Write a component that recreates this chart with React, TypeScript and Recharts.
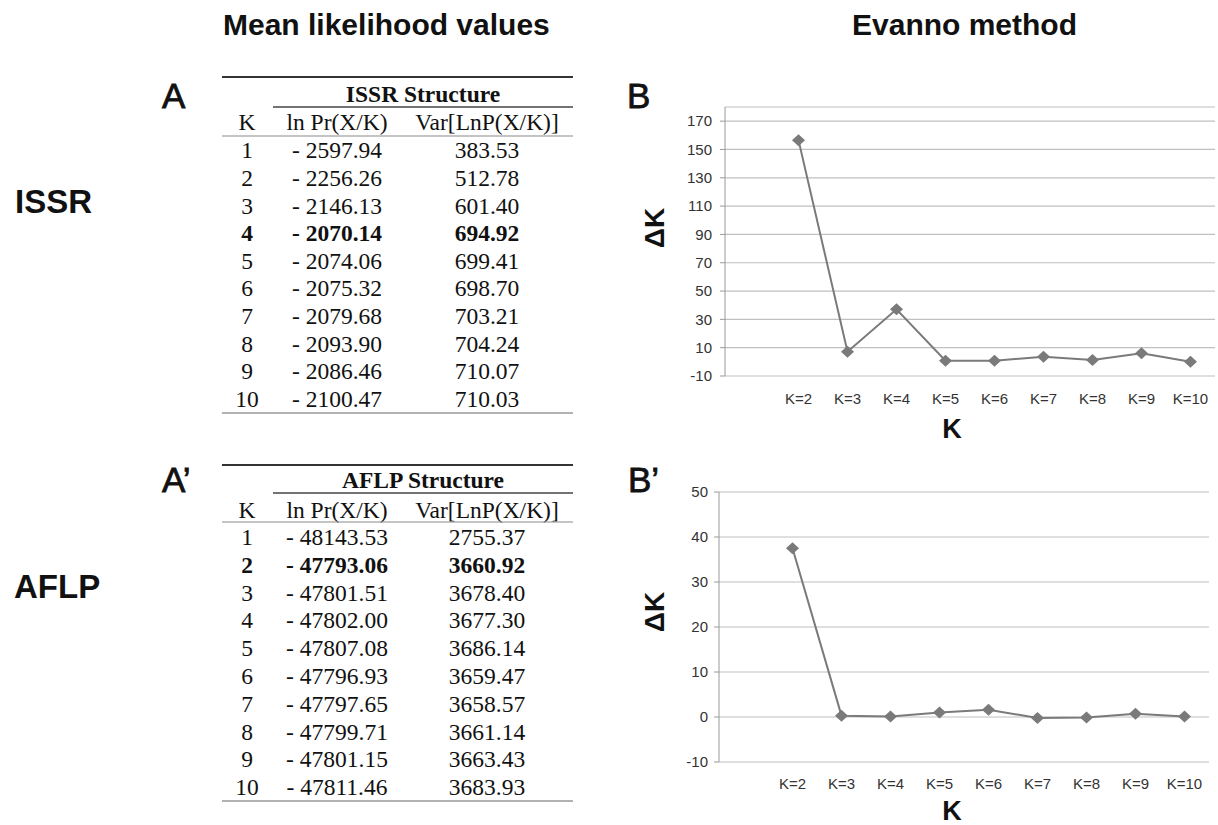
import React from 'react';
import { LineChart, Line, XAxis, YAxis, CartesianGrid } from 'recharts';

const SANS = 'Arial, "Liberation Sans", Helvetica, sans-serif';
const SERIF = '"Times New Roman", "Liberation Serif", serif';

// x slots of the Evanno plots (first slot is left empty, there is no ΔK for K=1)
const kSlots = ['', 'K=2', 'K=3', 'K=4', 'K=5', 'K=6', 'K=7', 'K=8', 'K=9', 'K=10'];
const issrDeltaK = [null, 156.6, 7.2, 37.1, 0.8, 0.8, 3.6, 1.3, 6.0, 0.1];
const aflpDeltaK = [null, 37.5, 0.3, 0.1, 1.0, 1.6, -0.2, -0.1, 0.7, 0.1];
const issrTicks = [-10, 10, 30, 50, 70, 90, 110, 130, 150, 170];
const aflpTicks = [-10, 0, 10, 20, 30, 40, 50];

// mean likelihood tables
const tableK = [1, 2, 3, 4, 5, 6, 7, 8, 9, 10];
const issrLnPr = [-2597.94, -2256.26, -2146.13, -2070.14, -2074.06, -2075.32, -2079.68, -2093.9, -2086.46, -2100.47];
const issrVar = [383.53, 512.78, 601.4, 694.92, 699.41, 698.7, 703.21, 704.24, 710.07, 710.03];
const aflpLnPr = [-48143.53, -47793.06, -47801.51, -47802.0, -47807.08, -47796.93, -47797.65, -47799.71, -47801.15, -47811.46];
const aflpVar = [2755.37, 3660.92, 3678.4, 3677.3, 3686.14, 3659.47, 3658.57, 3661.14, 3663.43, 3683.93];

const AXIS = '#9a9a9a';
const GRID = '#c0c0c0';
const SERIES = '#7a7a7a';

const fmtLn = (v: number) => `- ${Math.abs(v).toFixed(2)}`;
const fmtVar = (v: number) => v.toFixed(2);

const Diamond = (props: any) => {
  const { cx, cy, index, value } = props;
  if (cx == null || cy == null || value == null) return <g key={`d-${index}`} />;
  return (
    <path
      key={`d-${index}`}
      d={`M${cx},${cy - 6} L${cx + 6.5},${cy} L${cx},${cy + 6} L${cx - 6.5},${cy} Z`}
      fill={SERIES}
    />
  );
};

interface ChartProps {
  values: (number | null)[];
  ticks: number[];
  domain: [number, number];
  left: number;
  top: number;
  height: number;
  margin: { top: number; right: number; left: number; bottom: number };
  yWidth: number;
  yTickMargin: number;
  xLabelHeight: number;
  xTickMargin: number;
}

function DeltaKChart({ values, ticks, domain, left, top, height, margin, yWidth, yTickMargin, xLabelHeight, xTickMargin }: ChartProps) {
  const data = kSlots.map((label, i) => ({ pos: i + 1, label, dk: values[i] }));
  const bounds = [...kSlots.map((_, i) => i + 0.5), kSlots.length + 0.5];
  const labelTicks = data.filter((d) => d.label).map((d) => d.pos);
  const xDomain: [number, number] = [0.5, kSlots.length + 0.5];

  return (
    <div style={{ position: 'absolute', left, top }}>
      <LineChart width={618} height={height} data={data} margin={margin}>
        <CartesianGrid vertical={false} stroke={GRID} strokeWidth={1.2} />
        <XAxis
          xAxisId="bounds"
          dataKey="pos"
          type="number"
          domain={xDomain}
          ticks={bounds}
          interval={0}
          height={0}
          tickSize={5}
          tickFormatter={() => ''}
          axisLine={{ stroke: AXIS }}
          tickLine={{ stroke: AXIS }}
        />
        <XAxis
          dataKey="pos"
          type="number"
          domain={xDomain}
          ticks={labelTicks}
          interval={0}
          height={xLabelHeight}
          tickSize={0}
          tickMargin={xTickMargin}
          axisLine={false}
          tickLine={false}
          tickFormatter={(v: number) => kSlots[v - 1]}
          tick={{ fontSize: 15, fill: '#333' }}
        />
        <YAxis
          type="number"
          domain={domain}
          ticks={ticks}
          interval={0}
          width={yWidth}
          tickSize={5}
          tickMargin={yTickMargin}
          axisLine={{ stroke: AXIS }}
          tickLine={{ stroke: AXIS }}
          tick={{ fontSize: 15, fill: '#333' }}
        />
        <Line
          dataKey="dk"
          stroke={SERIES}
          strokeWidth={2}
          dot={Diamond}
          activeDot={false}
          isAnimationActive={false}
        />
      </LineChart>
    </div>
  );
}

interface TableLayout {
  top: number;
  title: number;
  sub: number;
  head: number;
  headRule: number;
  row0: number;
  pitch: number;
  bottom: number;
}

const T_LEFT = 222;
const T_RIGHT = 573;
const T_SUB = 273;
const COL_K = 247;
const COL_LN = 337;
const COL_VAR = 487;

function StructureTable({ title, lnPr, variance, boldRow, y }: { title: string; lnPr: number[]; variance: number[]; boldRow: number; y: TableLayout }) {
  return (
    <g fontFamily={SERIF} fontSize={23.5} fill="#111" textAnchor="middle">
      <line x1={T_LEFT} x2={T_RIGHT} y1={y.top} y2={y.top} stroke="#333" strokeWidth={2} />
      <text x={(T_SUB + T_RIGHT) / 2} y={y.title} fontWeight="bold">{title}</text>
      <line x1={T_SUB} x2={T_RIGHT} y1={y.sub} y2={y.sub} stroke="#444" strokeWidth={1.5} />
      <text x={COL_K} y={y.head}>K</text>
      <text x={COL_LN} y={y.head}>ln Pr(X/K)</text>
      <text x={COL_VAR} y={y.head}>Var[LnP(X/K)]</text>
      <line x1={T_LEFT} x2={T_RIGHT} y1={y.headRule} y2={y.headRule} stroke="#8a8a8a" strokeWidth={1.2} />
      {tableK.map((k, i) => (
        <g key={k} fontWeight={i === boldRow ? 'bold' : 'normal'}>
          <text x={COL_K} y={y.row0 + i * y.pitch}>{k}</text>
          <text x={COL_LN} y={y.row0 + i * y.pitch}>{fmtLn(lnPr[i])}</text>
          <text x={COL_VAR} y={y.row0 + i * y.pitch}>{fmtVar(variance[i])}</text>
        </g>
      ))}
      <line x1={T_LEFT} x2={T_RIGHT} y1={y.bottom} y2={y.bottom} stroke="#999" strokeWidth={1.5} />
    </g>
  );
}

export default function App() {
  return (
    <div style={{ position: 'absolute', left: 0, top: 0, width: 1218, height: 825, background: '#fff', fontFamily: SANS }}>
      <svg width={1218} height={825} style={{ position: 'absolute', left: 0, top: 0 }}>
        <g fontFamily={SANS} fill="#111">
          <text x={223} y={35} fontSize={30} fontWeight="bold">Mean likelihood values</text>
          <text x={852} y={35} fontSize={30} fontWeight="bold">Evanno method</text>
          <text x={15} y={213} fontSize={33} fontWeight="bold">ISSR</text>
          <text x={14} y={598} fontSize={33} fontWeight="bold">AFLP</text>
          <g stroke="#111" strokeWidth={0.8}>
            <text x={162} y={108} fontSize={35}>A</text>
            <text x={162} y={492} fontSize={35}>A’</text>
            <text x={627} y={108} fontSize={35}>B</text>
            <text x={628} y={492} fontSize={35}>B’</text>
          </g>
          <text x={654} y={228} fontSize={28} fontWeight="bold" textAnchor="middle" dominantBaseline="central" transform="rotate(-90 654 228)">ΔK</text>
          <text x={654} y={612} fontSize={28} fontWeight="bold" textAnchor="middle" dominantBaseline="central" transform="rotate(-90 654 612)">ΔK</text>
          <text x={952} y={438} fontSize={27} fontWeight="bold" textAnchor="middle">K</text>
          <text x={952} y={820} fontSize={27} fontWeight="bold" textAnchor="middle">K</text>
        </g>
        <StructureTable
          title="ISSR Structure"
          lnPr={issrLnPr}
          variance={issrVar}
          boldRow={3}
          y={{ top: 77, title: 101.7, sub: 107, head: 130, headRule: 136, row0: 158.3, pitch: 27.6, bottom: 413 }}
        />
        <StructureTable
          title="AFLP Structure"
          lnPr={aflpLnPr}
          variance={aflpVar}
          boldRow={1}
          y={{ top: 465, title: 488.3, sub: 493, head: 517.7, headRule: 522, row0: 545, pitch: 27.8, bottom: 801 }}
        />
      </svg>

      <DeltaKChart
        values={issrDeltaK}
        ticks={issrTicks}
        domain={[-10, 180]}
        left={600}
        top={70}
        height={380}
        margin={{ top: 37, right: 3, left: 0, bottom: 0 }}
        yWidth={125}
        yTickMargin={8}
        xLabelHeight={74}
        xTickMargin={17}
      />
      <DeltaKChart
        values={aflpDeltaK}
        ticks={aflpTicks}
        domain={[-10, 50]}
        left={600}
        top={450}
        height={375}
        margin={{ top: 42, right: 9, left: 0, bottom: 0 }}
        yWidth={119}
        yTickMargin={6}
        xLabelHeight={63}
        xTickMargin={16}
      />
    </div>
  );
}
